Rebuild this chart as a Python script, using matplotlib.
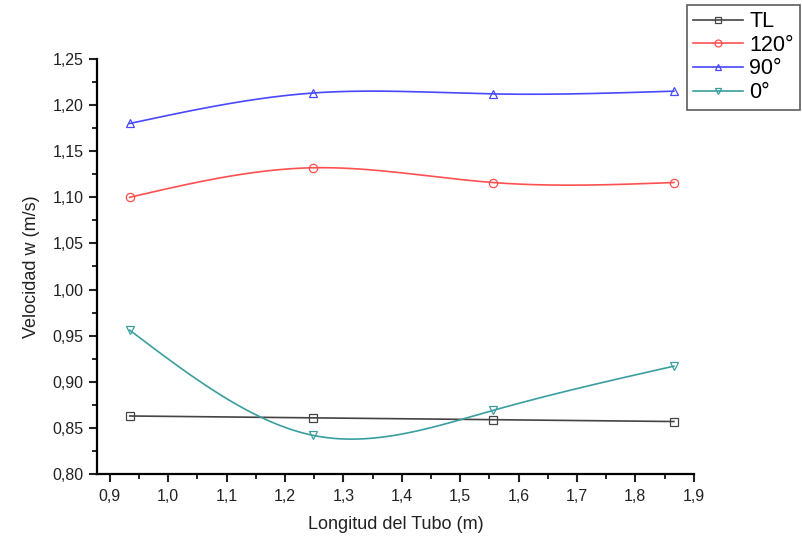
import numpy as np
import matplotlib
matplotlib.use('Agg')
import matplotlib.pyplot as plt
from matplotlib.ticker import MultipleLocator, FuncFormatter

plt.rcParams['font.family'] = ['Liberation Sans', 'DejaVu Sans']

# datos
longitud = [0.934, 1.248, 1.556, 1.866]
vel_tl = [0.863, 0.861, 0.859, 0.857]
vel_120 = [1.100, 1.132, 1.116, 1.116]
vel_90 = [1.180, 1.213, 1.212, 1.215]
vel_0 = [0.956, 0.842, 0.869, 0.917]

series_labels = ['TL', '120°', '90°', '0°']
series_colors = ['#444444', '#ff5050', '#4848ff', '#3a9e9e']
series_markers = ['s', 'o', '^', 'v']


def natural_spline(x, y, n=200):
    """Spline cúbica natural para trazar la curva suave entre puntos."""
    x = np.asarray(x, float)
    y = np.asarray(y, float)
    k = len(x)
    h = np.diff(x)
    A = np.zeros((k, k))
    b = np.zeros(k)
    A[0, 0] = A[-1, -1] = 1
    for i in range(1, k - 1):
        A[i, i - 1] = h[i - 1]
        A[i, i] = 2 * (h[i - 1] + h[i])
        A[i, i + 1] = h[i]
        b[i] = 6 * ((y[i + 1] - y[i]) / h[i] - (y[i] - y[i - 1]) / h[i - 1])
    m = np.linalg.solve(A, b)
    xs = np.linspace(x[0], x[-1], n)
    idx = np.clip(np.searchsorted(x, xs) - 1, 0, k - 2)
    x0, x1 = x[idx], x[idx + 1]
    hh = x1 - x0
    t0 = x1 - xs
    t1 = xs - x0
    ys = (m[idx] * t0**3 / (6 * hh) + m[idx + 1] * t1**3 / (6 * hh)
          + (y[idx] / hh - m[idx] * hh / 6) * t0
          + (y[idx + 1] / hh - m[idx + 1] * hh / 6) * t1)
    return xs, ys


fig = plt.figure(figsize=(8.02, 5.40), dpi=100)
ax = fig.add_axes([0.121, 0.122, 0.744, 0.769])

all_series = [vel_tl, vel_120, vel_90, vel_0]
for vals, lab, col, mk in zip(all_series, series_labels, series_colors, series_markers):
    xs, ys = natural_spline(longitud, vals)
    ax.plot(xs, ys, '-', color=col, linewidth=1.2)
    ax.plot(longitud, vals, linestyle='none', marker=mk, markersize=6,
            markerfacecolor='none', markeredgecolor=col, markeredgewidth=0.9)
    ax.plot([], [], '-', color=col, marker=mk, markersize=5, markerfacecolor='none',
            markeredgewidth=0.9, linewidth=1.2, label=lab)

ax.set_xlim(0.878, 1.9)
ax.set_ylim(0.80, 1.25)
ax.xaxis.set_major_locator(MultipleLocator(0.1))
ax.xaxis.set_minor_locator(MultipleLocator(0.05))
ax.yaxis.set_major_locator(MultipleLocator(0.05))
ax.yaxis.set_minor_locator(MultipleLocator(0.025))
ax.xaxis.set_major_formatter(FuncFormatter(lambda v, p: f'{v:.1f}'.replace('.', ',')))
ax.yaxis.set_major_formatter(FuncFormatter(lambda v, p: f'{v:.2f}'.replace('.', ',')))
ax.tick_params(which='major', length=6, width=1.5, labelsize=11.5, colors='#222222')
ax.tick_params(which='minor', length=3.5, width=1.2)
ax.tick_params(axis='x', pad=5)

ax.spines['top'].set_visible(False)
ax.spines['right'].set_visible(False)
ax.spines['left'].set_linewidth(1.6)
ax.spines['bottom'].set_linewidth(1.6)

ax.set_xlabel('Longitud del Tubo (m)', fontsize=13, color='#222222', labelpad=8)
ax.set_ylabel('Velocidad w (m/s)', fontsize=13, color='#222222', labelpad=9)

leg = fig.legend(loc='upper right', bbox_to_anchor=(0.998, 0.991), borderaxespad=0,
                 fontsize=15.5, frameon=True, fancybox=False, edgecolor='#333333',
                 handlelength=2.3, borderpad=0.3, labelspacing=0.12, handletextpad=0.3)
leg.get_frame().set_linewidth(1.2)

fig.savefig('out.png', dpi=100)
